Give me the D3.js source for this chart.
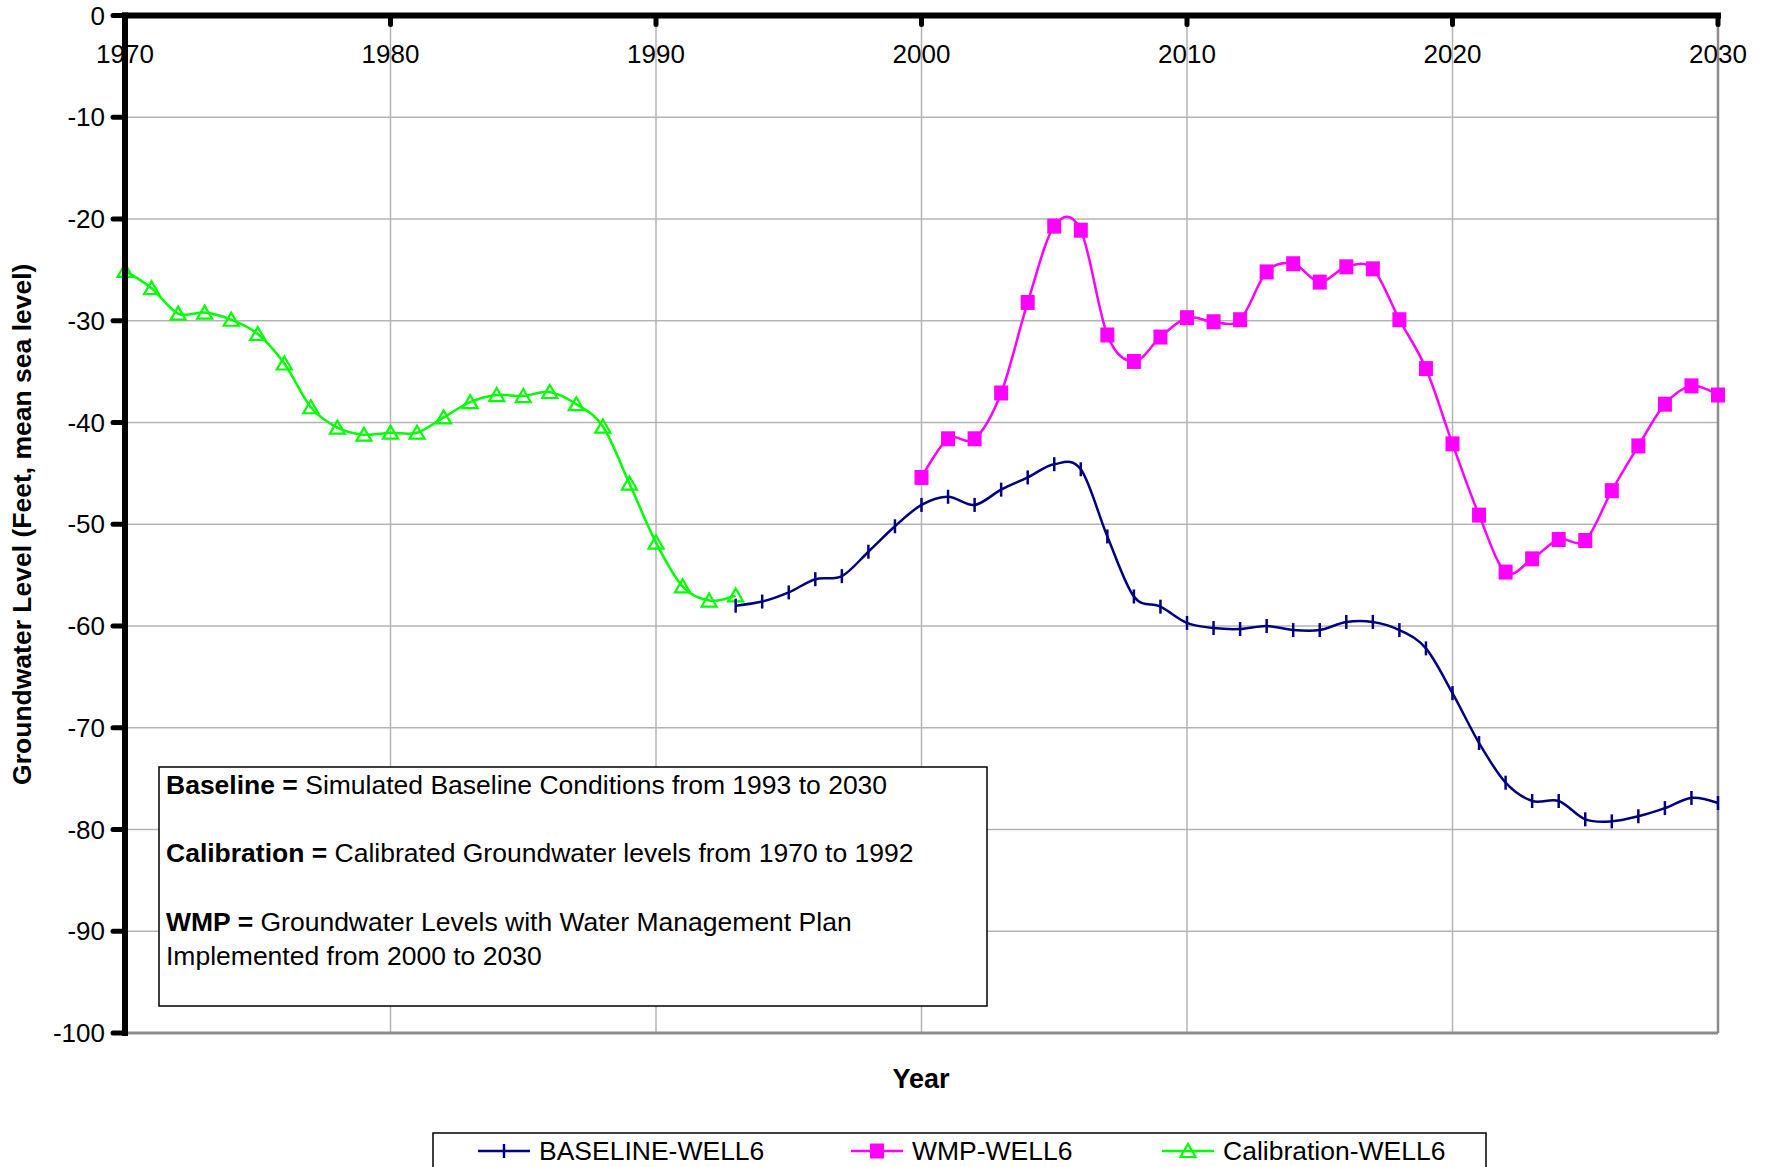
<!DOCTYPE html>
<html>
<head>
<meta charset="utf-8">
<script src="https://cdn.jsdelivr.net/npm/d3@7"></script>
<style>
  html, body { margin: 0; padding: 0; background: #fff; }
  svg { display: block; font-family: Arial, "Liberation Sans", sans-serif; }
</style>
</head>
<body>
<svg id="chart" width="1767" height="1167"></svg>
<script>
// Groundwater level at Well 6, feet relative to mean sea level
const calibrationYears = d3.range(1970, 1994);
const calibrationValues = [
  -25.1, -26.8, -29.3, -29.2, -29.9, -31.3, -34.2, -38.5, -40.5, -41.2,
  -41.0, -41.0, -39.5, -38.0, -37.3, -37.4, -37.0, -38.2, -40.4, -46.0,
  -51.8, -56.1, -57.5, -57.0
];

const baselineYears = d3.range(1993, 2031);
const baselineValues = [
  -58.0, -57.6, -56.7, -55.4, -55.1, -52.7, -50.2,
  -48.1, -47.3, -48.1, -46.6, -45.4, -44.1, -44.6, -51.2, -57.1, -58.1,
  -59.7, -60.2, -60.3, -60.0, -60.4, -60.4, -59.6, -59.6, -60.4, -62.2,
  -66.6, -71.5, -75.4, -77.2, -77.2, -79.0, -79.2, -78.7, -77.9, -76.9,
  -77.4
];

const wmpYears = d3.range(2000, 2031);
const wmpValues = [
  -45.4, -41.6, -41.6, -37.1, -28.2, -20.7, -21.1, -31.4, -34.0, -31.6,
  -29.7, -30.1, -29.9, -25.2, -24.4, -26.2, -24.7, -24.9, -29.9, -34.7,
  -42.1, -49.1, -54.7, -53.4, -51.5, -51.6, -46.7, -42.3, -38.2, -36.4,
  -37.3
];

const xTickYears = [1970, 1980, 1990, 2000, 2010, 2020, 2030];
const yTickValues = [0, -10, -20, -30, -40, -50, -60, -70, -80, -90, -100];

const seriesNames = ["BASELINE-WELL6", "WMP-WELL6", "Calibration-WELL6"];
const noteLines = [
  { bold: "Baseline = ", text: "Simulated Baseline Conditions from 1993 to 2030" },
  { bold: "Calibration = ", text: "Calibrated Groundwater levels from 1970 to 1992" },
  { bold: "WMP = ", text: "Groundwater Levels with Water Management Plan" },
  { bold: "", text: "Implemented from 2000 to 2030" }
];

const COLORS = { baseline: "#000080", wmp: "#ff00ff", calib: "#00ff00" };

const svg = d3.select("#chart");
const plot = { left: 125, right: 1718, top: 15.5, bottom: 1033 };

const x = d3.scaleLinear().domain([1970, 2030]).range([plot.left, plot.right]);
const y = d3.scaleLinear().domain([0, -100]).range([plot.top, plot.bottom]);

// Gridlines
const grid = svg.append("g");
grid.selectAll("line.h").data(yTickValues.filter(v => v !== 0 && v !== -100)).join("line")
  .attr("x1", plot.left).attr("x2", plot.right)
  .attr("y1", d => y(d)).attr("y2", d => y(d))
  .attr("stroke", "#b4b4b4").attr("stroke-width", 1.5);
grid.selectAll("line.v").data(xTickYears.filter(v => v !== 1970 && v !== 2030)).join("line")
  .attr("x1", d => x(d)).attr("x2", d => x(d))
  .attr("y1", plot.top).attr("y2", plot.bottom)
  .attr("stroke", "#b4b4b4").attr("stroke-width", 1.5);

// Plot-area frame on the right and bottom
svg.append("line").attr("x1", plot.right).attr("x2", plot.right)
  .attr("y1", plot.top).attr("y2", plot.bottom)
  .attr("stroke", "#8c8c8c").attr("stroke-width", 2.5);
svg.append("line").attr("x1", plot.left).attr("x2", plot.right)
  .attr("y1", plot.bottom).attr("y2", plot.bottom)
  .attr("stroke", "#8c8c8c").attr("stroke-width", 3);

// Annotation box
const note = svg.append("g");
note.append("rect").attr("x", 159).attr("y", 767).attr("width", 828).attr("height", 239)
  .attr("fill", "#fff").attr("stroke", "#000").attr("stroke-width", 1.5);
const noteY = [794, 862, 931, 965];
noteLines.forEach((ln, i) => {
  const t = note.append("text").attr("x", 166).attr("y", noteY[i])
    .attr("font-size", 26.5).attr("fill", "#000");
  if (ln.bold) t.append("tspan").attr("font-weight", "bold").text(ln.bold);
  t.append("tspan").text(ln.text);
});

// Series
const line = d3.line().x(d => x(d[0])).y(d => y(d[1])).curve(d3.curveCardinal.tension(0));
const zip = (xs, vs) => xs.map((yr, i) => [yr, vs[i]]);
const calib = zip(calibrationYears, calibrationValues);
const base = zip(baselineYears, baselineValues);
const wmp = zip(wmpYears, wmpValues);

svg.append("path").datum(calib).attr("d", line)
  .attr("fill", "none").attr("stroke", COLORS.calib).attr("stroke-width", 2.5);
svg.append("path").datum(base).attr("d", line)
  .attr("fill", "none").attr("stroke", COLORS.baseline).attr("stroke-width", 2.5);
svg.append("path").datum(wmp).attr("d", line)
  .attr("fill", "none").attr("stroke", COLORS.wmp).attr("stroke-width", 2.5);

const triPath = "M0,-7 L7.5,6 L-7.5,6 Z";
svg.append("g").selectAll("path").data(calib).join("path")
  .attr("transform", d => `translate(${x(d[0])},${y(d[1])})`)
  .attr("d", triPath).attr("fill", "none")
  .attr("stroke", COLORS.calib).attr("stroke-width", 2.2);

svg.append("g").selectAll("line").data(base).join("line")
  .attr("x1", d => x(d[0])).attr("x2", d => x(d[0]))
  .attr("y1", d => y(d[1]) - 7).attr("y2", d => y(d[1]) + 7)
  .attr("stroke", COLORS.baseline).attr("stroke-width", 2.5);

svg.append("g").selectAll("rect").data(wmp).join("rect")
  .attr("x", d => x(d[0]) - 7).attr("y", d => y(d[1]) - 7.5)
  .attr("width", 14).attr("height", 15)
  .attr("fill", COLORS.wmp);

// Axes: thick left axis and a thick top axis at level 0
const yAxis = svg.append("g");
yAxis.append("line").attr("x1", plot.left).attr("x2", plot.left)
  .attr("y1", plot.top - 3).attr("y2", plot.bottom + 3)
  .attr("stroke", "#000").attr("stroke-width", 6);
yAxis.selectAll("line.tk").data(yTickValues).join("line")
  .attr("x1", plot.left - 12).attr("x2", plot.left)
  .attr("y1", d => y(d)).attr("y2", d => y(d))
  .attr("stroke", "#000").attr("stroke-width", 5).attr("stroke-linecap", "round");
yAxis.selectAll("text").data(yTickValues).join("text")
  .attr("x", plot.left - 20).attr("y", d => y(d))
  .attr("dy", "0.35em").attr("text-anchor", "end")
  .attr("font-size", 26).attr("fill", "#000")
  .text(d => d3.format("d")(d).replace("−", "-"));

const xAxis = svg.append("g");
xAxis.append("line").attr("x1", plot.left - 3).attr("x2", plot.right + 3)
  .attr("y1", plot.top).attr("y2", plot.top)
  .attr("stroke", "#000").attr("stroke-width", 6);
xAxis.selectAll("line.tk").data(xTickYears).join("line")
  .attr("x1", d => x(d)).attr("x2", d => x(d))
  .attr("y1", plot.top).attr("y2", plot.top + 9)
  .attr("stroke", "#000").attr("stroke-width", 5).attr("stroke-linecap", "round");
xAxis.selectAll("text").data(xTickYears).join("text")
  .attr("x", d => x(d)).attr("y", 54).attr("dy", "0.35em")
  .attr("text-anchor", "middle").attr("font-size", 26).attr("fill", "#000")
  .text(d => d);

// Axis titles
svg.append("text")
  .attr("transform", `translate(31,${(plot.top + plot.bottom) / 2 }) rotate(-90)`)
  .attr("text-anchor", "middle").attr("font-size", 26.5).attr("font-weight", "bold")
  .text("Groundwater Level (Feet, mean sea level)");
svg.append("text").attr("x", 921).attr("y", 1088).attr("text-anchor", "middle")
  .attr("font-size", 27).attr("font-weight", "bold").text("Year");

// Legend
const legend = svg.append("g");
legend.append("rect").attr("x", 433).attr("y", 1133).attr("width", 1053).attr("height", 60)
  .attr("fill", "#fff").attr("stroke", "#000").attr("stroke-width", 1.5);
const legendX = [478, 851, 1162];
const legendColors = [COLORS.baseline, COLORS.wmp, COLORS.calib];
const ly = 1151;
seriesNames.forEach((name, i) => {
  const g = legend.append("g").attr("transform", `translate(${legendX[i]},${ly})`);
  g.append("line").attr("x1", 0).attr("x2", 52).attr("y1", 0).attr("y2", 0)
    .attr("stroke", legendColors[i]).attr("stroke-width", 2.5);
  if (i === 0) {
    g.append("line").attr("x1", 26).attr("x2", 26).attr("y1", -7).attr("y2", 7)
      .attr("stroke", legendColors[i]).attr("stroke-width", 2.5);
  } else if (i === 1) {
    g.append("rect").attr("x", 19).attr("y", -7.5).attr("width", 14).attr("height", 15)
      .attr("fill", legendColors[i]);
  } else {
    g.append("path").attr("transform", "translate(26,0)").attr("d", triPath)
      .attr("fill", "none").attr("stroke", legendColors[i]).attr("stroke-width", 2.2);
  }
  g.append("text").attr("x", 61).attr("y", 0).attr("dy", "0.35em")
    .attr("font-size", 26.5).attr("fill", "#000").text(name);
});
</script>
</body>
</html>
